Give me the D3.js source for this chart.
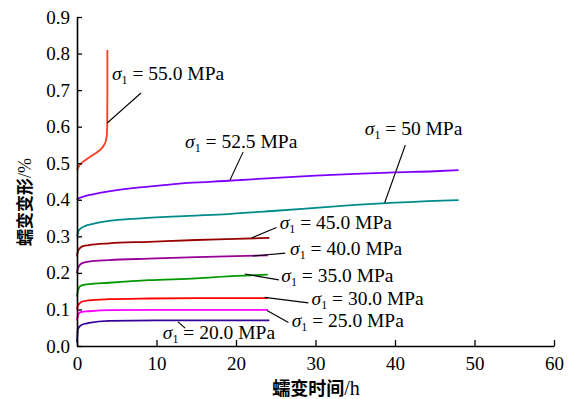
<!DOCTYPE html>
<html>
<head>
<meta charset="utf-8">
<script src="https://cdn.jsdelivr.net/npm/d3@7"></script>
<style>
  body { margin: 0; background: #fff; }
  svg { display: block; }
  text { font-family: "Liberation Serif", "Times New Roman", serif; }
</style>
</head>
<body>
<div class="canvas"></div>
<script>
/**
 * Data (time in h, strain in %)
 */
const t55 = [0, 0.3, 0.7, 1.2, 1.8, 2.4, 2.9, 3.3, 3.6, 3.75, 3.8, 3.82, 3.82]
const e55 = [0.481, 0.494, 0.503, 0.511, 0.52, 0.528, 0.536, 0.546, 0.558, 0.575, 0.6, 0.7, 0.81]

const t525 = [0, 0.1, 0.3, 1, 2, 4, 7, 10, 14, 19, 25, 30, 35, 40, 45, 48]
const e525 = [0.4, 0.402, 0.405, 0.41, 0.415, 0.423, 0.432, 0.438, 0.446, 0.452, 0.46, 0.466, 0.471, 0.475, 0.478, 0.481]

const t50 = [0, 0.1, 0.2, 0.5, 1, 2, 4, 8, 14, 19, 25, 30, 35, 40, 45, 48]
const e50 = [0.3, 0.308, 0.315, 0.322, 0.328, 0.334, 0.342, 0.349, 0.356, 0.361, 0.37, 0.378, 0.386, 0.392, 0.397, 0.399]

const t45 = [0, 0.1, 0.3, 0.6, 1.5, 4, 9, 15, 20, 24.2]
const e45 = [0.245, 0.258, 0.266, 0.272, 0.276, 0.281, 0.285, 0.29, 0.293, 0.296]

const t40 = [0, 0.1, 0.3, 0.6, 1.5, 4, 9, 15, 20, 24]
const e40 = [0.199, 0.212, 0.22, 0.226, 0.231, 0.235, 0.239, 0.243, 0.246, 0.248]

const t35 = [0, 0.1, 0.2, 0.5, 1.5, 4, 9, 15, 20, 24]
const e35 = [0.135, 0.15, 0.157, 0.165, 0.169, 0.173, 0.18, 0.185, 0.192, 0.195]

const t30 = [0, 0.1, 0.3, 0.6, 1.5, 4, 9, 15, 24]
const e30 = [0.1, 0.11, 0.116, 0.121, 0.125, 0.128, 0.13, 0.131, 0.131]

const t25 = [0, 0.1, 0.2, 0.5, 1.5, 4, 10, 24]
const e25 = [0.07, 0.082, 0.088, 0.093, 0.095, 0.098, 0.099, 0.099]

const t20 = [0, 0.05, 0.1, 0.3, 0.6, 1.5, 4, 10, 24.2]
const e20 = [0.01, 0.03, 0.045, 0.053, 0.058, 0.063, 0.069, 0.07, 0.07]

const xTicks = [0, 10, 20, 30, 40, 50, 60]
const yTicks = [0, 0.1, 0.2, 0.3, 0.4, 0.5, 0.6, 0.7, 0.8, 0.9]

const stresses = ["55.0", "52.5", "50", "45.0", "40.0", "35.0", "30.0", "25.0", "20.0"]

/**
 * Dimension setup
 */
const width = 568, height = 399
const plot = { left: 77, right: 554, top: 17, bottom: 346 }
const serif = "'Liberation Serif', 'Times New Roman', serif"
const cjk = "'Noto Sans CJK SC', sans-serif"

const svg = d3.select(".canvas")
    .append("svg")
    .attr("width", width)
    .attr("height", height)

const x = d3.scaleLinear().domain([0, 60]).range([plot.left, plot.right])
const y = d3.scaleLinear().domain([0, 0.9]).range([plot.bottom, plot.top])

const series = [
    { t: t55, e: e55, color: "#ff3c1e" },
    { t: t525, e: e525, color: "#7f00ff" },
    { t: t50, e: e50, color: "#008b8b" },
    { t: t45, e: e45, color: "#990000" },
    { t: t40, e: e40, color: "#990099" },
    { t: t35, e: e35, color: "#009900" },
    { t: t30, e: e30, color: "#ff0000" },
    { t: t25, e: e25, color: "#ff00ff" },
    { t: t20, e: e20, color: "#330099" }
]

// label anchor (data units) and leader line ends
const notes = [
    { tx: 4.4, ty: 0.728, l: [[3.8, 0.61], [8.05, 0.692]] },
    { tx: 13.6, ty: 0.542, l: [[20.9, 0.531], [19.25, 0.454]] },
    { tx: 36.2, ty: 0.577, l: [[41.3, 0.55], [38.7, 0.392]] },
    { tx: 25.5, ty: 0.319, l: [[22.0, 0.296], [25.1, 0.324]] },
    { tx: 26.8, ty: 0.249, l: [[22.1, 0.246], [26.2, 0.254]] },
    { tx: 25.7, ty: 0.176, l: [[21.1, 0.197], [25.4, 0.181]] },
    { tx: 29.5, ty: 0.112, l: [[23.6, 0.133], [29.1, 0.118]] },
    { tx: 27.0, ty: 0.053, l: [[23.9, 0.097], [26.6, 0.064]] },
    { tx: 10.8, ty: 0.019, l: [[12.7, 0.066], [13.6, 0.049]] }
]

/**
 * Curves
 */
const line = d3.line()
    .x(d => x(d[0]))
    .y(d => y(d[1]))
    .curve(d3.curveMonotoneX)

const lineLin = d3.line()
    .x(d => x(d[0]))
    .y(d => y(d[1]))

svg.append("g")
    .selectAll("path")
    .data(series)
    .enter()
    .append("path")
        .attr("fill", "none")
        .attr("stroke", d => d.color)
        .attr("stroke-width", 1.8)
        .attr("d", (d, i) => {
            const pts = d.t.map((t, j) => [t, d.e[j]])
            return i == 0 ? lineLin(pts) : line(pts) // 55 MPa has a vertical jump
        })

/**
 * Axes
 */
const xAxis = d3.axisBottom(x)
    .tickValues(xTicks)
    .tickSizeInner(-6)
    .tickSizeOuter(0)
    .tickPadding(11)

const yAxis = d3.axisLeft(y)
    .tickValues(yTicks)
    .tickFormat(d3.format(".1f"))
    .tickSizeInner(-5)
    .tickSizeOuter(0)
    .tickPadding(7)

const gx = svg.append("g")
    .attr("transform", `translate(0,${plot.bottom})`)
    .call(xAxis)

const gy = svg.append("g")
    .attr("transform", `translate(${plot.left},0)`)
    .call(yAxis)

;[gx, gy].forEach(g => {
    g.attr("font-family", null)
    g.select(".domain").attr("stroke", "#000").attr("stroke-width", 1.6)
    g.selectAll(".tick line").attr("stroke", "#000").attr("stroke-width", 1.3)
    g.selectAll(".tick text")
        .attr("fill", "#000")
        .style("font-family", serif)
        .style("font-size", "19px")
})

/**
 * Annotations
 */
const ann = svg.append("g")

notes.forEach((n, i) => {
    ann.append("line")
        .attr("x1", x(n.l[0][0])).attr("y1", y(n.l[0][1]))
        .attr("x2", x(n.l[1][0])).attr("y2", y(n.l[1][1]))
        .attr("stroke", "#000")
        .attr("stroke-width", 1.1)

    const txt = ann.append("text")
        .attr("x", x(n.tx))
        .attr("y", y(n.ty))
        .style("font-family", serif)
        .style("font-size", "19.5px")
        .attr("fill", "#000")
    txt.append("tspan").style("font-style", "italic").text("σ")
    txt.append("tspan").attr("dy", 4).style("font-size", "12px").text("1")
    txt.append("tspan").attr("dy", -4).text(` = ${stresses[i]} MPa`)
})

/**
 * Axis titles
 */
const xt = svg.append("text")
    .attr("x", 316)
    .attr("y", 394.5)
    .attr("text-anchor", "middle")
    .attr("fill", "#000")
xt.append("tspan")
    .style("font-family", cjk)
    .style("font-size", "18px")
    .style("font-weight", "bold")
    .text("蠕变时间")
xt.append("tspan")
    .style("font-family", serif)
    .style("font-size", "20px")
    .text("/h")

const yt = svg.append("text")
    .attr("transform", "translate(31,202) rotate(-90)")
    .attr("text-anchor", "middle")
    .attr("fill", "#000")
yt.append("tspan")
    .style("font-family", cjk)
    .style("font-size", "17px")
    .style("font-weight", "bold")
    .text("蠕变变形")
yt.append("tspan")
    .style("font-family", serif)
    .style("font-size", "18px")
    .text("/%")
</script>
</body>
</html>
